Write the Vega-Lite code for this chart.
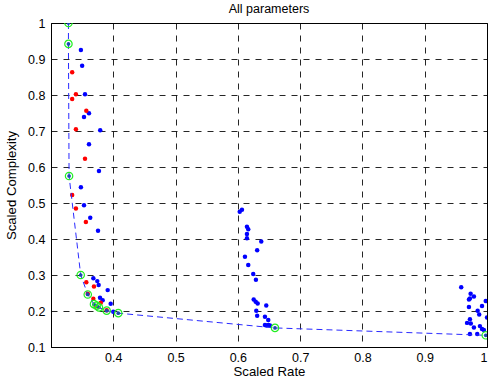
{
  "$schema": "https://vega.github.io/schema/vega-lite/v6.json",
  "width": 436,
  "height": 324,
  "autosize": "none",
  "padding": {"left": 51, "top": 23, "right": 2, "bottom": 36},
  "title": {"text": "All parameters", "fontSize": 12.5, "fontWeight": "normal", "font": "Liberation Sans", "color": "#000", "offset": 2},
  "config": {
    "view": {"stroke": "#000", "strokeWidth": 1},
    "axis": {"labelFont": "Liberation Sans", "titleFont": "Liberation Sans", "labelFontSize": 12.5, "titleFontSize": 13.2, "titleFontWeight": "normal", "labelColor": "#000", "titleColor": "#000", "domainColor": "#000", "tickSize": 0, "grid": true, "gridColor": "#000", "gridDash": [6, 6], "gridOpacity": 0.85, "gridWidth": 1}
  },
  "datasets": {
    "blue": [
      {"x": 0.348, "y": 0.925}, {"x": 0.350, "y": 0.881}, {"x": 0.3546, "y": 0.802}, {"x": 0.361, "y": 0.749},
      {"x": 0.353, "y": 0.739}, {"x": 0.379, "y": 0.702}, {"x": 0.361, "y": 0.663}, {"x": 0.377, "y": 0.589},
      {"x": 0.348, "y": 0.544}, {"x": 0.353, "y": 0.494}, {"x": 0.363, "y": 0.459}, {"x": 0.3755, "y": 0.423},
      {"x": 0.368, "y": 0.291}, {"x": 0.3743, "y": 0.283}, {"x": 0.3765, "y": 0.272}, {"x": 0.391, "y": 0.258},
      {"x": 0.3787, "y": 0.237}, {"x": 0.383, "y": 0.230}, {"x": 0.3958, "y": 0.220}, {"x": 0.400, "y": 0.198},
      {"x": 0.603, "y": 0.476}, {"x": 0.6066, "y": 0.481}, {"x": 0.6146, "y": 0.434}, {"x": 0.6167, "y": 0.427},
      {"x": 0.6146, "y": 0.414}, {"x": 0.6146, "y": 0.402}, {"x": 0.6376, "y": 0.393}, {"x": 0.631, "y": 0.369},
      {"x": 0.6114, "y": 0.351}, {"x": 0.6167, "y": 0.328}, {"x": 0.6247, "y": 0.303}, {"x": 0.629, "y": 0.287},
      {"x": 0.6254, "y": 0.232}, {"x": 0.6286, "y": 0.226}, {"x": 0.6318, "y": 0.221}, {"x": 0.6456, "y": 0.215},
      {"x": 0.6296, "y": 0.201}, {"x": 0.631, "y": 0.187}, {"x": 0.6435, "y": 0.184}, {"x": 0.6488, "y": 0.175},
      {"x": 0.6435, "y": 0.161}, {"x": 0.649, "y": 0.161}, {"x": 0.646, "y": 0.160}, {"x": 0.6515, "y": 0.160},
      {"x": 0.9586, "y": 0.266}, {"x": 0.9737, "y": 0.248}, {"x": 0.979, "y": 0.240}, {"x": 0.9726, "y": 0.235},
      {"x": 0.971, "y": 0.232}, {"x": 0.998, "y": 0.228}, {"x": 0.971, "y": 0.211}, {"x": 0.992, "y": 0.214},
      {"x": 0.985, "y": 0.201}, {"x": 0.9875, "y": 0.190}, {"x": 1.0, "y": 0.182}, {"x": 0.9726, "y": 0.177},
      {"x": 0.968, "y": 0.167}, {"x": 0.974, "y": 0.165}, {"x": 0.979, "y": 0.154}, {"x": 0.9886, "y": 0.158},
      {"x": 0.992, "y": 0.150}, {"x": 0.995, "y": 0.147}, {"x": 0.9726, "y": 0.136}, {"x": 0.9843, "y": 0.136}
    ],
    "red": [
      {"x": 0.334, "y": 0.863}, {"x": 0.340, "y": 0.802}, {"x": 0.334, "y": 0.789}, {"x": 0.3567, "y": 0.756},
      {"x": 0.340, "y": 0.705}, {"x": 0.3546, "y": 0.623}, {"x": 0.334, "y": 0.522}, {"x": 0.340, "y": 0.485},
      {"x": 0.356, "y": 0.447}, {"x": 0.3567, "y": 0.280}, {"x": 0.369, "y": 0.268}, {"x": 0.359, "y": 0.248},
      {"x": 0.368, "y": 0.234}, {"x": 0.380, "y": 0.223}, {"x": 0.373, "y": 0.213}, {"x": 0.3894, "y": 0.202}
    ],
    "front": [
      {"x": 0.328, "y": 1.0}, {"x": 0.328, "y": 0.942}, {"x": 0.329, "y": 0.575}, {"x": 0.3477, "y": 0.300},
      {"x": 0.359, "y": 0.246}, {"x": 0.369, "y": 0.219}, {"x": 0.3733, "y": 0.215}, {"x": 0.377, "y": 0.210},
      {"x": 0.3894, "y": 0.201}, {"x": 0.408, "y": 0.194}, {"x": 0.6596, "y": 0.153}, {"x": 0.998, "y": 0.1325}
    ]
  },
  "encoding": {
    "x": {"field": "x", "type": "quantitative", "scale": {"domain": [0.3, 1], "nice": false, "zero": false}, "axis": {"title": "Scaled Rate", "values": [0.4, 0.5, 0.6, 0.7, 0.8, 0.9, 1], "format": "~g", "labelPadding": 4, "titlePadding": 2}},
    "y": {"field": "y", "type": "quantitative", "scale": {"domain": [0.1, 1], "nice": false, "zero": false}, "axis": {"title": "Scaled Complexity", "values": [0.1, 0.2, 0.3, 0.4, 0.5, 0.6, 0.7, 0.8, 0.9, 1], "format": "~g", "labelPadding": 6, "titlePadding": 9}}
  },
  "layer": [
    {"data": {"name": "blue"}, "mark": {"type": "point", "filled": true, "shape": "circle", "size": 20, "color": "#0000ff", "opacity": 1, "clip": true}},
    {"data": {"name": "red"}, "mark": {"type": "point", "filled": true, "shape": "circle", "size": 20, "color": "#ff0000", "opacity": 1, "clip": true}},
    {"data": {"name": "front"}, "mark": {"type": "line", "color": "#2a2aff", "strokeDash": [6, 4], "strokeWidth": 1, "clip": true}, "encoding": {"order": {"field": "y", "sort": "descending"}}},
    {"data": {"name": "front"}, "mark": {"type": "point", "filled": true, "shape": "circle", "size": 14, "color": "#1a4ab0", "opacity": 1, "clip": true}},
    {"data": {"name": "front"}, "mark": {"type": "point", "filled": false, "shape": "circle", "size": 55, "color": "#22ee22", "strokeWidth": 1.2, "opacity": 1, "clip": true}}
  ]
}
